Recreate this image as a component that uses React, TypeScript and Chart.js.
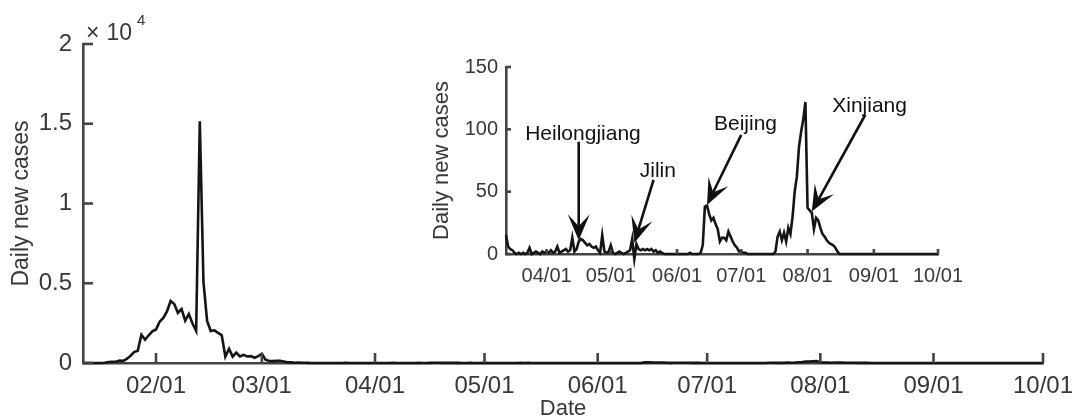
import React, { useEffect, useRef } from 'react';
import { Chart, registerables } from 'chart.js';

Chart.register(...registerables);

// ---------- data ----------
const YEAR = 2020;

// Daily new cases, one value per day starting at earlyStartDate
const earlyStartDate = '01/12';
const earlyCases = [
  0, 0, 1, 0, 0, 4, 17, 59, 77, 77,
  149, 131, 259, 444, 688, 769, 1771, 1459, 1737, 1982,
  2102, 2590, 2829, 3235, 3887, 3694, 3143, 3385, 2652, 3073,
  2478, 2015, 15152, 5090, 2641, 2008, 2048, 1886, 1749, 394,
  889, 397, 648, 409, 508, 406, 433, 327, 427, 573,
  202, 125, 119, 139, 143, 99, 44, 40, 19, 24,
  15,
];

// Daily new cases, one value per day starting at laterStartDate
const laterStartDate = '03/13';
const laterCases = [
  15, 6, 4, 3, 1, 0, 1, 0, 1, 0,
  1, 5, 0, 1, 2, 1, 0, 2, 1, 2,
  1, 3, 1, 2, 6, 1, 2, 3, 4, 2,
  3, 13, 2, 4, 10, 12, 11, 9, 7, 8,
  6, 5, 6, 3, 1, 15, 2, 1, 2, 7,
  1, 0, 1, 2, 1, 0, 1, 2, 3, 12,
  -4, 8, 4, 3, 4, 3, 4, 3, 4, 2,
  3, 1, 2, 1, 0, 0, 0, 0, 0, 0,
  0, 0, 0, 0, 0, 0, 1, 0, 0, 0,
  0, 1, 7, 38, 39, 32, 27, 29, 24, 20,
  10, 13, 13, 11, 18, 14, 10, 7, 5, 2,
  2, 1, 1, 0, 0, 0, 0, 0, 0, 0,
  0, 0, 0, 0, 0, 0, 2, 14, 18, 11,
  17, 10, 21, 16, 30, 50, 62, 86, 98, 108,
  122, 37, 35, 33, 20, 29, 27, 21, 16, 14,
  11, 9, 8, 7, 5, 2, 0, 0, 0, 0,
  0, 0, 0, 0, 0, 0, 0, 0, 0, 0,
  0, 0, 0, 0, 0, 0, 0, 0, 0, 0,
  0, 0, 0, 0, 0, 0, 0, 0, 0, 0,
  0, 0, 0, 0, 0, 0, 0, 0, 0, 0,
  0, 0, 0,
];

const mainRange = ['01/12', '10/01'];
const mainXTickLabels = ['02/01', '03/01', '04/01', '05/01', '06/01', '07/01', '08/01', '09/01', '10/01'];
const mainYTicks = [0, 5000, 10000, 15000, 20000];
const mainYTickLabels = ['0', '0.5', '1', '1.5', '2'];
const mainYExponent = '4';

const insetRange = ['03/13', '10/01'];
const insetXTickLabels = ['04/01', '05/01', '06/01', '07/01', '08/01', '09/01', '10/01'];
const insetYTicks = [0, 50, 100, 150];

const outbreakNames = ['Heilongjiang', 'Jilin', 'Beijing', 'Xinjiang'];
const outbreakLabelDates = ['04/18', '05/23', '07/03', '08/30'];
const outbreakLabelValues = [91.6, 61.6, 99.6, 114.3];
const outbreakArrowFromDates = ['04/16', '05/21', '07/01', '08/28'];
const outbreakArrowFromValues = [90, 59.5, 95.6, 111.7];
const outbreakArrowToDates = ['04/16', '05/12', '06/15', '08/03'];
const outbreakArrowToValues = [11, 9, 39.4, 34];

// ---------- helpers ----------
const dayOf = (mmdd: string) => {
  const [m, d] = mmdd.split('/').map(Number);
  return Math.round((Date.UTC(YEAR, m - 1, d) - Date.UTC(YEAR, 0, 1)) / 86400000);
};
const toPoints = (start: string, values: number[]) => {
  const s = dayOf(start);
  return values.map((v, i) => ({ x: s + i, y: v }));
};
const pad2 = (n: number) => String(n).padStart(2, '0');
const labelOfDay = (day: number) => {
  const dt = new Date(Date.UTC(YEAR, 0, 1) + day * 86400000);
  return pad2(dt.getUTCMonth() + 1) + '/' + pad2(dt.getUTCDate());
};

const FONT = '"Liberation Sans", Arial, Helvetica, sans-serif';
const AXIS_COLOR = '#444444';
const TEXT_COLOR = '#383838';
const LINE_COLOR = '#151515';

const inwardTicksPlugin = (len: number, width: number) => ({
  id: 'inwardTicks',
  afterDatasetsDraw(chart: any) {
    const { ctx, chartArea, scales } = chart;
    const x = scales.x;
    const y = scales.y;
    ctx.save();
    ctx.strokeStyle = AXIS_COLOR;
    ctx.lineWidth = width;
    ctx.lineCap = 'butt';
    x.ticks.forEach((t: any) => {
      const px = x.getPixelForValue(t.value);
      ctx.beginPath();
      ctx.moveTo(px, chartArea.bottom);
      ctx.lineTo(px, chartArea.bottom - len);
      ctx.stroke();
    });
    y.ticks.forEach((t: any) => {
      const py = y.getPixelForValue(t.value);
      ctx.beginPath();
      ctx.moveTo(chartArea.left, py);
      ctx.lineTo(chartArea.left + len, py);
      ctx.stroke();
    });
    ctx.restore();
  },
});

const exponentPlugin = {
  id: 'exponent',
  afterDraw(chart: any) {
    const { ctx, chartArea } = chart;
    ctx.save();
    ctx.fillStyle = TEXT_COLOR;
    ctx.textBaseline = 'alphabetic';
    ctx.textAlign = 'left';
    ctx.font = `23px ${FONT}`;
    ctx.fillText('\u00d7', chartArea.left + 3, chartArea.top - 4);
    ctx.textAlign = 'right';
    ctx.fillText('10', chartArea.left + 49, chartArea.top - 4);
    ctx.textAlign = 'left';
    ctx.font = `15px ${FONT}`;
    ctx.fillText(mainYExponent, chartArea.left + 54, chartArea.top - 19);
    ctx.restore();
  },
};

const arrowsPlugin = {
  id: 'outbreakArrows',
  afterDatasetsDraw(chart: any) {
    const { ctx, scales } = chart;
    const x = scales.x;
    const y = scales.y;
    ctx.save();
    outbreakNames.forEach((name, i) => {
      // label
      ctx.fillStyle = '#111111';
      ctx.font = `21px ${FONT}`;
      ctx.textAlign = 'center';
      ctx.textBaseline = 'alphabetic';
      ctx.fillText(name, x.getPixelForValue(dayOf(outbreakLabelDates[i])), y.getPixelForValue(outbreakLabelValues[i]));
      // arrow
      const x0 = x.getPixelForValue(dayOf(outbreakArrowFromDates[i]));
      const y0 = y.getPixelForValue(outbreakArrowFromValues[i]);
      const x1 = x.getPixelForValue(dayOf(outbreakArrowToDates[i]));
      const y1 = y.getPixelForValue(outbreakArrowToValues[i]);
      const dx = x1 - x0;
      const dy = y1 - y0;
      const L = Math.hypot(dx, dy);
      const ux = dx / L;
      const uy = dy / L;
      const nx = -uy;
      const ny = ux;
      const headLen = 26;
      const notch = 14;
      const halfW = 11;
      ctx.strokeStyle = '#111111';
      ctx.lineWidth = 2.6;
      ctx.beginPath();
      ctx.moveTo(x0, y0);
      ctx.lineTo(x1 - ux * notch, y1 - uy * notch);
      ctx.stroke();
      ctx.fillStyle = '#111111';
      ctx.beginPath();
      ctx.moveTo(x1, y1);
      ctx.lineTo(x1 - ux * headLen + nx * halfW, y1 - uy * headLen + ny * halfW);
      ctx.lineTo(x1 - ux * notch, y1 - uy * notch);
      ctx.lineTo(x1 - ux * headLen - nx * halfW, y1 - uy * headLen - ny * halfW);
      ctx.closePath();
      ctx.fill();
    });
    ctx.restore();
  },
};

const fitX = (h: number) => (s: any) => {
  s.height = h;
  s.paddingLeft = 0;
  s.paddingRight = 0;
};
const fitY = (w: number) => (s: any) => {
  s.width = w;
  s.paddingTop = 0;
  s.paddingBottom = 0;
};

export default function App() {
  const mainRef = useRef<HTMLCanvasElement | null>(null);
  const insetRef = useRef<HTMLCanvasElement | null>(null);

  useEffect(() => {
    const allPoints = [...toPoints(earlyStartDate, earlyCases), ...toPoints(laterStartDate, laterCases)];
    const mainTickDays = mainXTickLabels.map(dayOf);
    const insetTickDays = insetXTickLabels.map(dayOf);

    const main = new Chart(mainRef.current as HTMLCanvasElement, {
      type: 'line',
      data: {
        datasets: [
          {
            data: allPoints,
            borderColor: LINE_COLOR,
            borderWidth: 2.6,
            pointRadius: 0,
            tension: 0,
            clip: false,
          } as any,
        ],
      },
      options: {
        animation: false,
        responsive: false,
        maintainAspectRatio: false,
        events: [],
        layout: { padding: { top: 44, right: 34, left: 0, bottom: 0 } },
        plugins: { legend: { display: false }, tooltip: { enabled: false } },
        scales: {
          x: {
            type: 'linear',
            min: dayOf(mainRange[0]),
            max: dayOf(mainRange[1]),
            afterFit: fitX(54),
            afterBuildTicks: (s: any) => { s.ticks = mainTickDays.map((v) => ({ value: v })); },
            ticks: {
              callback: (v: any) => labelOfDay(Number(v)),
              font: { family: FONT, size: 24 },
              color: TEXT_COLOR,
              padding: 9,
              maxRotation: 0,
              autoSkip: false,
            },
            grid: { display: false, drawTicks: false },
            border: { display: true, color: AXIS_COLOR, width: 2.6 },
            title: {
              display: true,
              text: 'Date',
              font: { family: FONT, size: 22, lineHeight: 1 },
              color: TEXT_COLOR,
              padding: { top: 0, bottom: -3 },
            },
          },
          y: {
            type: 'linear',
            min: mainYTicks[0],
            max: mainYTicks[mainYTicks.length - 1],
            afterFit: fitY(83),
            afterBuildTicks: (s: any) => { s.ticks = mainYTicks.map((v) => ({ value: v })); },
            ticks: {
              callback: (v: any) => mainYTickLabels[mainYTicks.indexOf(Number(v))],
              font: { family: FONT, size: 24 },
              color: TEXT_COLOR,
              padding: 11,
            },
            grid: { display: false, drawTicks: false },
            border: { display: true, color: AXIS_COLOR, width: 2.6 },
            title: {
              display: true,
              text: 'Daily new cases',
              font: { family: FONT, size: 23, lineHeight: 1 },
              color: TEXT_COLOR,
              padding: { top: 10, bottom: 0 },
            },
          },
        },
      },
      plugins: [inwardTicksPlugin(10, 2.6), exponentPlugin],
    });

    const inset = new Chart(insetRef.current as HTMLCanvasElement, {
      type: 'line',
      data: {
        datasets: [
          {
            data: toPoints(laterStartDate, laterCases),
            borderColor: LINE_COLOR,
            borderWidth: 2.6,
            pointRadius: 0,
            tension: 0,
            clip: false,
          } as any,
        ],
      },
      options: {
        animation: false,
        responsive: false,
        maintainAspectRatio: false,
        events: [],
        layout: { padding: { top: 17, right: 62, left: 0, bottom: 0 } },
        plugins: { legend: { display: false }, tooltip: { enabled: false } },
        scales: {
          x: {
            type: 'linear',
            min: dayOf(insetRange[0]),
            max: dayOf(insetRange[1]),
            afterFit: fitX(46),
            afterBuildTicks: (s: any) => { s.ticks = insetTickDays.map((v) => ({ value: v })); },
            ticks: {
              callback: (v: any) => labelOfDay(Number(v)),
              font: { family: FONT, size: 20 },
              color: TEXT_COLOR,
              padding: 10,
              maxRotation: 0,
              autoSkip: false,
            },
            grid: { display: false, drawTicks: false },
            border: { display: true, color: AXIS_COLOR, width: 2.6 },
          },
          y: {
            type: 'linear',
            min: insetYTicks[0],
            max: insetYTicks[insetYTicks.length - 1],
            afterFit: fitY(86),
            afterBuildTicks: (s: any) => { s.ticks = insetYTicks.map((v) => ({ value: v })); },
            ticks: {
              callback: (v: any) => String(v),
              font: { family: FONT, size: 20 },
              color: TEXT_COLOR,
              padding: 8,
            },
            grid: { display: false, drawTicks: false },
            border: { display: true, color: AXIS_COLOR, width: 2.6 },
            title: {
              display: true,
              text: 'Daily new cases',
              font: { family: FONT, size: 22, lineHeight: 1 },
              color: TEXT_COLOR,
              padding: { top: 11, bottom: 0 },
            },
          },
        },
      },
      plugins: [inwardTicksPlugin(5, 2.6), arrowsPlugin],
    });

    return () => {
      main.destroy();
      inset.destroy();
    };
  }, []);

  return (
    <div style={{ position: 'fixed', left: 0, top: 0, width: 1077, height: 417, background: '#ffffff' }}>
      <canvas ref={mainRef} width={1077} height={417} style={{ position: 'absolute', left: 0, top: 0, width: 1077, height: 417 }} />
      <canvas ref={insetRef} width={580} height={250} style={{ position: 'absolute', left: 420, top: 50, width: 580, height: 250 }} />
    </div>
  );
}
